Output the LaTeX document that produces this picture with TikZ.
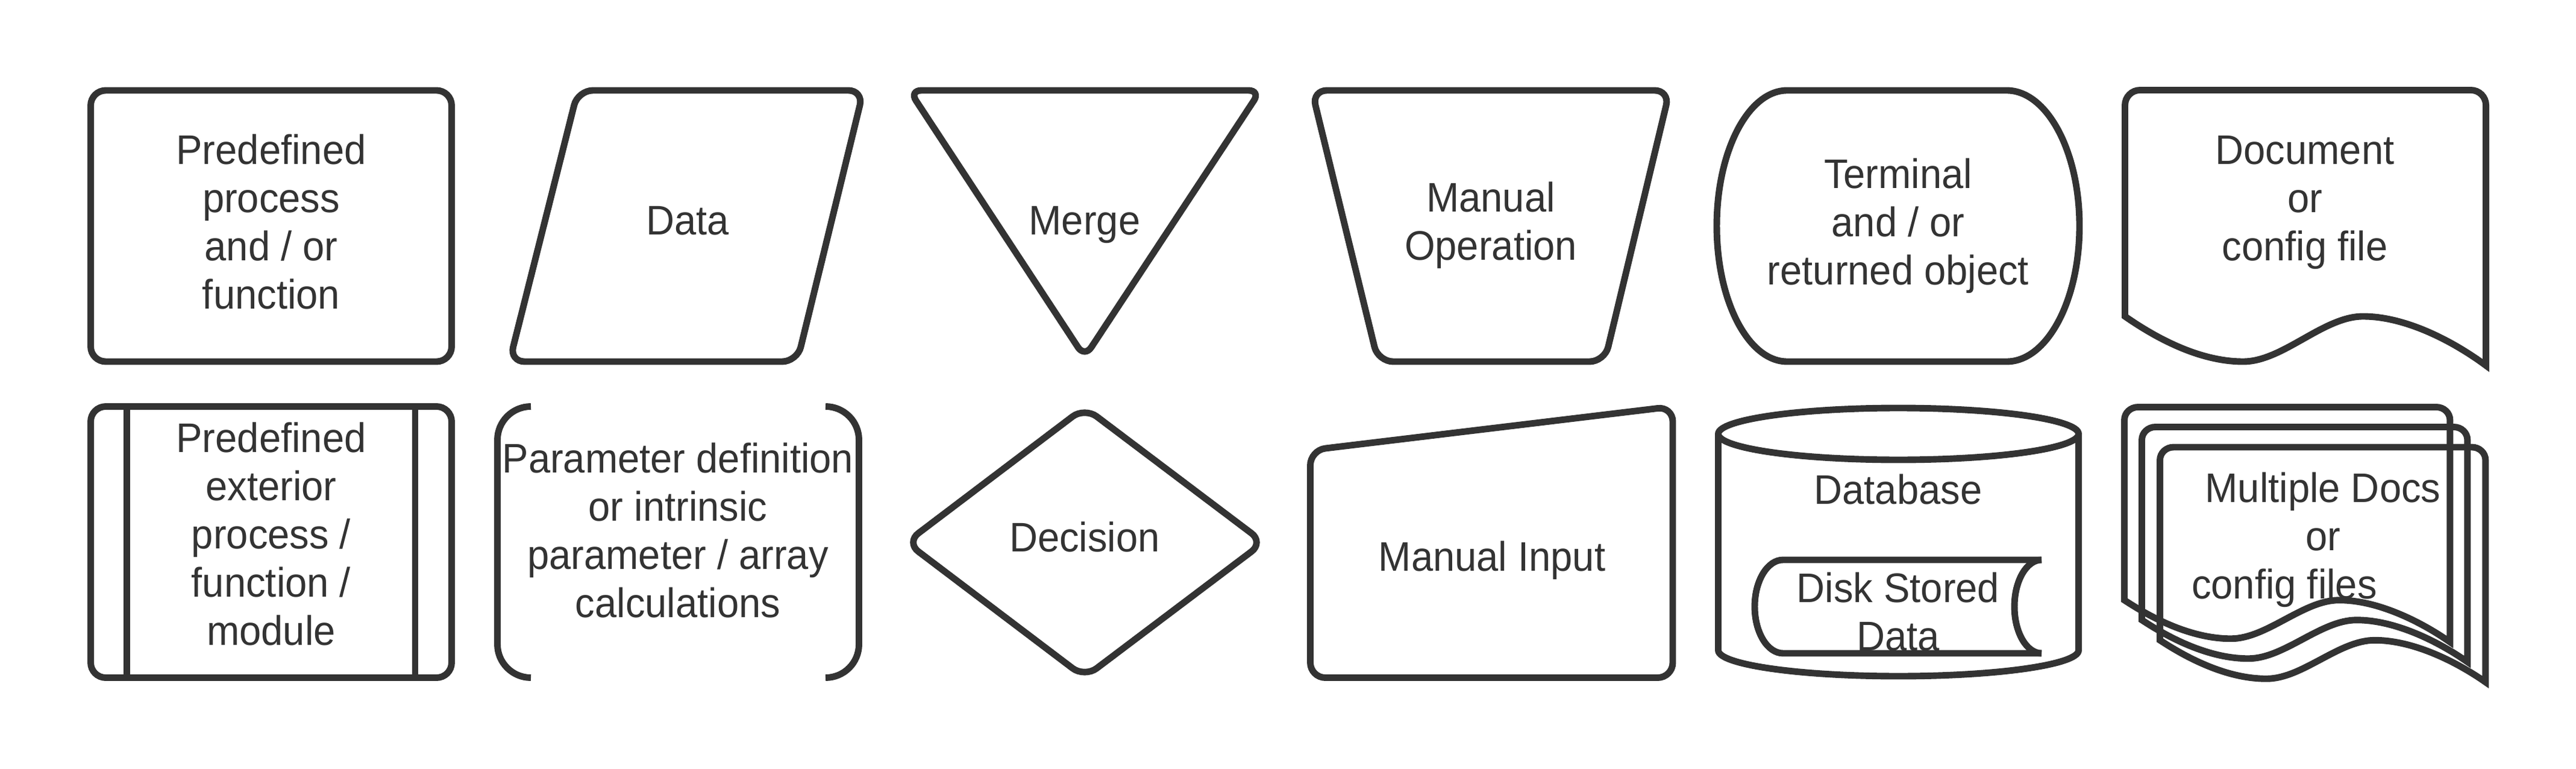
\documentclass[tikz,border=0pt]{standalone}
\usepackage{fontspec}
\setmainfont{Liberation Sans}[FakeStretch=0.95]
\definecolor{linegray}{HTML}{333333}

\begin{document}
\begin{tikzpicture}
    \tikzstyle{symbol} = [draw=linegray, line width=3.1pt]
    \tikzstyle{roundsymbol} = [symbol, rounded corners=0.25cm]
    \tikzstyle{legendtext} = [align=center, text=linegray, inner sep=0pt, font=\fontsize{19.5}{22.8}\selectfont]
    \useasboundingbox (0,0) rectangle (42.75,12.75);
    % top row
    \draw [roundsymbol] (1.505,6.75) rectangle (7.495,11.25);
    \draw [roundsymbol] (9.59,11.25) -- (14.33,11.25) -- (13.23,6.75) -- (8.455,6.75) -- cycle;
    \draw [symbol, rounded corners=0.2cm] (15.09,11.25) -- (20.92,11.25) -- (18.00,6.82) -- cycle;
    \draw [roundsymbol] (21.77,11.25) -- (27.71,11.25) -- (26.63,6.75) -- (22.87,6.75) -- cycle;
    \draw [symbol] (29.66,11.25) -- (33.30,11.25) arc[start angle=90, end angle=-90, x radius=1.21, y radius=2.25] -- (29.66,6.75) arc[start angle=270, end angle=90, x radius=1.17, y radius=2.25] -- cycle;
    \foreach \dx/\dy/\sx/\sy in {35.265/11.255/1/1, 35.255/5.995/0.902/0.853, 35.545/5.665/0.902/0.853, 35.845/5.33/0.902/0.853}
        \draw [symbol, shift={(\dx,\dy)}, xscale=\sx, yscale=\sy] (0,-3.755) -- (0,-0.25) arc[start angle=180, end angle=90, radius=0.25] -- (5.74,0) arc[start angle=90, end angle=0, radius=0.25] -- (5.99,-4.57) .. controls (5.45,-4.17) and (4.66,-3.755) .. (3.95,-3.755) .. controls (3.29,-3.755) and (2.62,-4.505) .. (1.96,-4.505) .. controls (1.30,-4.505) and (0.61,-4.18) .. (0,-3.755) -- cycle;
    % bottom row
    \draw [roundsymbol] (1.505,1.505) rectangle (7.495,6.005);
    \draw [symbol] (2.105,6.005) -- (2.105,1.505);
    \draw [symbol] (6.89,6.005) -- (6.89,1.505);
    \draw [symbol] (8.81,6.005) arc[start angle=90, end angle=180, radius=0.555] -- (8.255,2.06) arc[start angle=180, end angle=270, radius=0.555];
    \draw [symbol] (13.70,6.005) arc[start angle=90, end angle=0, radius=0.555] -- (14.255,2.06) arc[start angle=0, end angle=-90, radius=0.555];
    \draw [roundsymbol] (15.04,3.75) -- (18.00,5.99) -- (20.97,3.75) -- (18.00,1.51) -- cycle;
    \draw [roundsymbol] (21.745,5.28) -- (27.76,6.005) -- (27.76,1.505) -- (21.745,1.505) -- cycle;
    \draw [symbol] (31.505,5.55) ellipse [x radius=2.99, y radius=0.43];
    \draw [symbol] (28.515,5.55) -- (28.515,1.96) arc[start angle=180, end angle=360, x radius=2.99, y radius=0.43] -- (34.495,5.55);
    \draw [symbol] (33.88,3.46) -- (29.59,3.46) arc[start angle=90, end angle=270, x radius=0.47, y radius=0.775] -- (33.88,1.91);
    \draw [symbol] (33.88,3.46) arc[start angle=90, end angle=270, x radius=0.45, y radius=0.775];
    \node (predef) [legendtext] at (4.50,9.07) {Predefined\\process\\and / or\\function};
    \node (data) [legendtext] at (11.41,9.09) {Data};
    \node (merge) [legendtext] at (18.00,9.02) {Merge};
    \node (manop) [legendtext] at (24.74,9.01) {Manual\\Operation};
    \node (term) [legendtext] at (31.50,9.00) {Terminal\\and / or\\returned object};
    \node (doc) [legendtext] at (38.25,9.39) {Document\\or\\config file};
    \node (extproc) [legendtext] at (4.50,3.89) {Predefined\\exterior\\process /\\function /\\module};
    \node (param) [legendtext] at (11.25,3.95) {Parameter definition\\or intrinsic\\parameter / array\\calculations};
    \node (decision) [legendtext] at (18.00,3.84) {Decision};
    \node (manin) [legendtext] at (24.76,3.45) {Manual Input};
    \node (db) [legendtext] at (31.50,4.63) {Database};
    \node (disk) [legendtext] at (31.50,2.60) {Disk Stored\\Data};
    \node (multidoc) [legendtext] at (38.55,3.79) {Multiple Docs\\or\\config files\hspace*{1.28cm}};
\end{tikzpicture}
\end{document}
